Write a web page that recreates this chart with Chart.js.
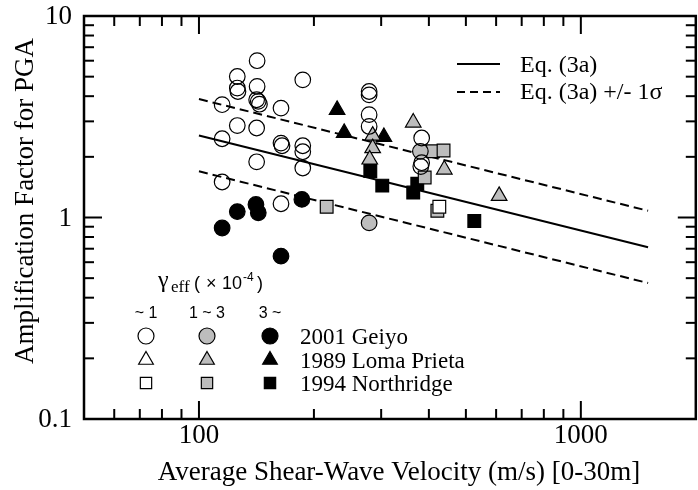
<!DOCTYPE html>
<html><head><meta charset="utf-8">
<script src="https://cdn.jsdelivr.net/npm/chart.js@4.4.1/dist/chart.umd.min.js"></script>
<style>
html,body{margin:0;padding:0;overflow:hidden;background:#fff;width:698px;height:490px}
#wrap{position:relative;width:706px;height:490px}
</style>
</head><body><div id="wrap"><canvas id="c" width="706" height="490" style="width:706px;height:490px"></canvas></div>
<script>
// ---- data (V: average shear-wave velocity m/s, A: amplification factor for PGA)
const geiyoLowV  = [115,115,115,126,126,126.5,126,142,142,141.6,143,144,141.6,141.6,164,164,165,164,187,187,187,187,279,279,279,279,383,383,381];
const geiyoLowA  = [3.63,2.46,1.50,5.01,4.39,4.22,2.86,6.0,4.47,3.84,3.77,3.65,2.78,1.89,3.49,2.34,2.27,1.17,4.82,2.27,2.12,1.76,4.22,4.06,3.24,2.83,2.48,1.87,1.79];
const geiyoMidV  = [380,279];
const geiyoMidA  = [2.13,0.94];
const geiyoHighV = [115,126,141,143,164,186];
const geiyoHighA = [0.887,1.07,1.16,1.055,0.643,1.23];
const lomaMidV   = [285,285,280,364,439,611];
const lomaMidA   = [2.55,2.21,1.94,2.96,1.73,1.28];
const lomaHighV  = [230,240,305];
const lomaHighA  = [3.42,2.63,2.51];
const northLowV  = [426];
const northLowA  = [1.13];
const northMidV  = [216,410,437,390,421];
const northMidA  = [1.13,2.13,2.15,1.58,1.08];
const northHighV = [281,302,373,364,526];
const northHighA = [1.70,1.44,1.47,1.33,0.96];
// Eq. (3a) and +/- 1 sigma lines (end points)
const eqV      = [100,1500];
const eqMid    = [2.55,0.712];
const eqUpper  = [3.87,1.08];
const eqLower  = [1.695,0.473];
// axis ticks
const xMajorTicks = [100,1000];
const xMinorTicks = [60,70,80,90,200,300,400,500,600,700,800,900];
const yMajorTicks = [0.1,1,10];
const yMinorTicks = [0.2,0.3,0.4,0.5,0.6,0.7,0.8,0.9,2,3,4,5,6,7,8,9];
const xTickLabels = ['100','1000'];
const yTickLabels = ['0.1','1','10'];
const gammaClasses = ['~ 1','1 ~ 3','3 ~'];
const eventNames = ['2001 Geiyo','1989 Loma Prieta','1994 Northridge'];

const GRAY = '#bdbdbd';
const SERIF = '"Liberation Serif","Times New Roman",serif';
const SANS = '"Liberation Sans",Arial,sans-serif';

function pts(V, A){ return V.map((v,i)=>({x:v, y:A[i]})); }

function markerDs(V, A, style, fill, r){
  return {type:'scatter', data:pts(V,A), pointStyle:style, pointRadius:r, pointHoverRadius:r,
    backgroundColor:fill, borderColor:'#000', pointBorderWidth:1.2, borderWidth:1.2, order:1};
}
function lineDs(V, A, dash){
  return {type:'scatter', data:pts(V,A), showLine:true, borderColor:'#000', borderWidth:2,
    borderDash:dash, pointRadius:0, fill:false, order:2};
}

function drawMarker(ctx, style, r, fill, x, y){
  ctx.save();
  ctx.fillStyle = fill; ctx.strokeStyle = '#000'; ctx.lineWidth = 1.2;
  if (Chart.helpers && Chart.helpers.drawPoint){
    Chart.helpers.drawPoint(ctx, {pointStyle:style, radius:r, rotation:0, borderWidth:1.2}, x, y);
  } else {
    ctx.beginPath(); ctx.arc(x,y,r,0,Math.PI*2); ctx.fill(); ctx.stroke();
  }
  ctx.restore();
}

const decor = {
  id:'decor',
  afterDraw(chart){
    const ctx = chart.ctx, a = chart.chartArea, xs = chart.scales.x, ys = chart.scales.y;
    ctx.save();
    ctx.strokeStyle = '#000';
    const seg = (x1,y1,x2,y2)=>{ctx.beginPath();ctx.moveTo(x1,y1);ctx.lineTo(x2,y2);ctx.stroke();};
    // ticks (inward)
    ctx.lineWidth = 2;
    xMinorTicks.forEach(v=>{const p=xs.getPixelForValue(v); seg(p,a.bottom,p,a.bottom-10); seg(p,a.top,p,a.top+10);});
    xMajorTicks.forEach(v=>{const p=xs.getPixelForValue(v); seg(p,a.bottom,p,a.bottom-18); seg(p,a.top,p,a.top+18);});
    yMinorTicks.forEach(v=>{const p=ys.getPixelForValue(v); seg(a.left,p,a.left+10,p); seg(a.right,p,a.right-10,p);});
    yMajorTicks.forEach(v=>{const p=ys.getPixelForValue(v); seg(a.left,p,a.left+18,p); seg(a.right,p,a.right-18,p);});
    // frame
    ctx.lineWidth = 2.5;
    ctx.strokeRect(a.left, a.top, a.right-a.left, a.bottom-a.top);
    // tick labels
    ctx.fillStyle = '#000';
    ctx.font = '27px ' + SERIF;
    ctx.textAlign = 'center'; ctx.textBaseline = 'alphabetic';
    xMajorTicks.forEach((v,i)=>ctx.fillText(xTickLabels[i], xs.getPixelForValue(v), a.bottom+24));
    ctx.textAlign = 'right'; ctx.textBaseline = 'middle';
    yMajorTicks.forEach((v,i)=>ctx.fillText(yTickLabels[i], a.left-12, ys.getPixelForValue(v)+1));
    // axis titles
    ctx.textAlign = 'center'; ctx.textBaseline = 'alphabetic';
    ctx.fillText('Average Shear-Wave Velocity (m/s) [0-30m]', 399, 480);
    ctx.save();
    ctx.translate(33, 201); ctx.rotate(-Math.PI/2);
    ctx.fillText('Amplification Factor for PGA', 0, 0);
    ctx.restore();
    // equation legend
    ctx.lineWidth = 2;
    seg(457,64,500,64);
    ctx.setLineDash([8,5]); seg(457,92,500,92); ctx.setLineDash([]);
    ctx.font = '24px ' + SERIF; ctx.textAlign = 'left';
    ctx.fillText('Eq. (3a)', 520, 72);
    ctx.fillText('Eq. (3a) +/- 1\u03c3', 520, 99);
    // symbol legend
    ctx.font = '24px ' + SERIF;
    ctx.fillText('\u03b3', 158, 287);
    ctx.font = '17px ' + SERIF;
    ctx.fillText('eff', 171, 292);
    ctx.font = '18px ' + SANS;
    ctx.fillText('(', 194, 289);
    ctx.fillText('\u00d7', 206, 289);
    ctx.fillText('10', 222, 289);
    ctx.fillText(')', 257, 289);
    ctx.font = '12px ' + SANS;
    ctx.fillText('-4', 243, 281);
    ctx.font = '16px ' + SANS; ctx.textAlign = 'center';
    const colX = [146, 207, 270];
    gammaClasses.forEach((t,i)=>ctx.fillText(t, colX[i], 318));
    const rowY = [336, 360, 383];
    const styles = [['circle',8],['triangle',8.5],['rect',8]];
    const fills = ['rgba(255,255,255,1)', GRAY, '#000'];
    rowY.forEach((yy,r)=>{
      colX.forEach((xx,c)=>drawMarker(ctx, styles[r][0], styles[r][1], fills[c], xx, yy));
    });
    ctx.font = '23px ' + SERIF; ctx.textAlign = 'left'; ctx.fillStyle = '#000';
    eventNames.forEach((t,i)=>ctx.fillText(t, 300, rowY[i]+8));
    ctx.restore();
  }
};

new Chart(document.getElementById('c'), {
  type:'scatter',
  data:{datasets:[
    lineDs(eqV, eqMid, []),
    lineDs(eqV, eqUpper, [9,5]),
    lineDs(eqV, eqLower, [9,5]),
    markerDs(geiyoLowV, geiyoLowA, 'circle', 'rgba(0,0,0,0)', 7.8),
    markerDs(geiyoMidV, geiyoMidA, 'circle', GRAY, 7.8),
    markerDs(geiyoHighV, geiyoHighA, 'circle', '#000', 7.8),
    markerDs(lomaMidV, lomaMidA, 'triangle', GRAY, 9),
    markerDs(lomaHighV, lomaHighA, 'triangle', '#000', 9),
    markerDs(northLowV, northLowA, 'rect', '#fff', 9),
    markerDs(northMidV, northMidA, 'rect', GRAY, 9),
    markerDs(northHighV, northHighA, 'rect', '#000', 9)
  ]},
  options:{
    responsive:false, animation:false, devicePixelRatio:1,
    layout:{padding:{left:84, top:16, right:4, bottom:71}},
    plugins:{legend:{display:false}, tooltip:{enabled:false}},
    scales:{
      x:{type:'logarithmic', min:50, max:2000, display:false},
      y:{type:'logarithmic', min:0.1, max:10, display:false}
    }
  },
  plugins:[decor]
});
</script>
</body></html>
